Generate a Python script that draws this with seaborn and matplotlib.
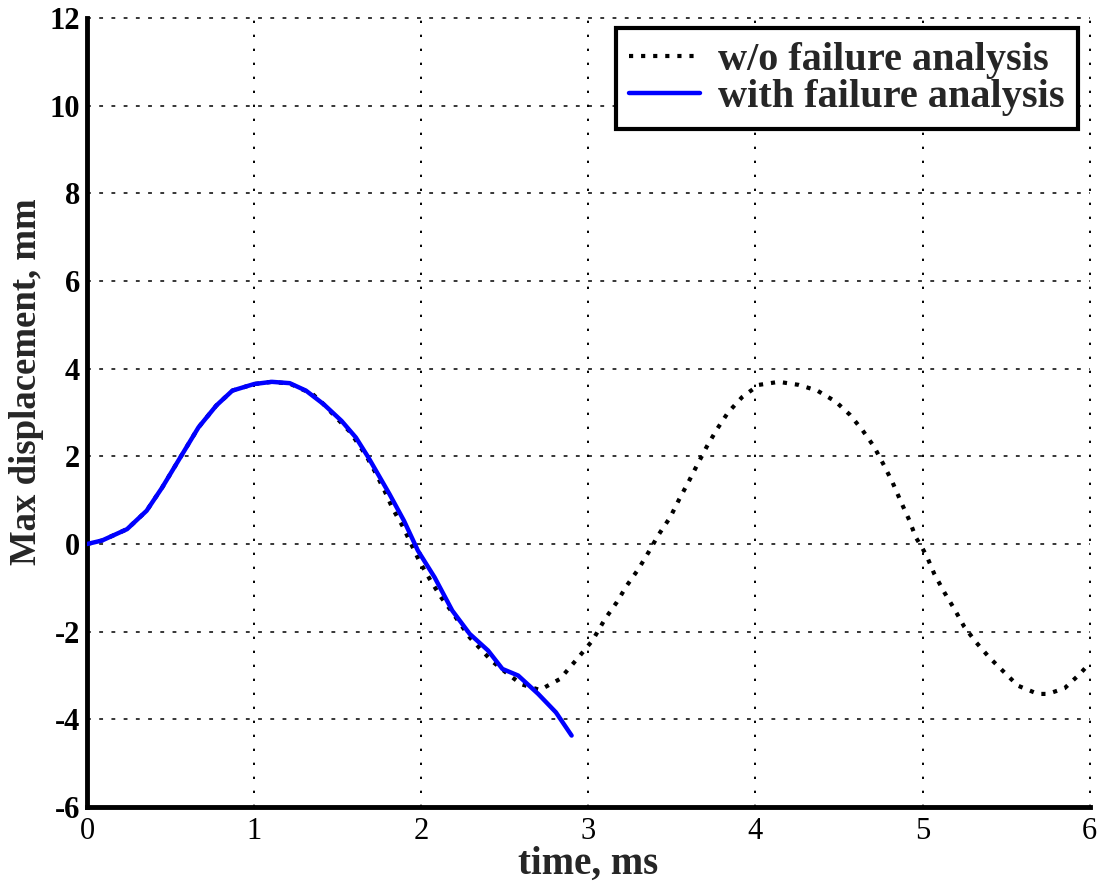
import matplotlib
matplotlib.use("Agg")
import matplotlib.pyplot as plt
import seaborn as sns
import pandas as pd

# Max displacement without failure analysis (ms, mm)
t_nofail = [0.0, 0.09, 0.24, 0.357, 0.45, 0.54, 0.667, 0.774, 0.87, 1.0, 1.106,
            1.213, 1.35, 1.405, 1.50, 1.576, 1.67, 1.726, 1.78, 1.83, 1.887,
            1.94, 1.99, 2.057, 2.12, 2.186, 2.29, 2.42, 2.52, 2.60, 2.71, 2.83,
            2.94, 3.025, 3.10, 3.17, 3.23, 3.30, 3.36, 3.42, 3.49, 3.545, 3.60,
            3.655, 3.71, 3.77, 3.836, 3.92, 4.02, 4.14, 4.26, 4.37, 4.48,
            4.565, 4.64, 4.71, 4.77, 4.82, 4.87, 4.92, 4.96, 5.0, 5.03, 5.07,
            5.13, 5.19, 5.25, 5.32, 5.40, 5.49, 5.57, 5.69, 5.75, 5.85, 5.94,
            6.0]
d_nofail = [0.0, 0.08, 0.34, 0.76, 1.29, 1.86, 2.66, 3.16, 3.50, 3.65, 3.70,
            3.66, 3.42, 3.23, 2.85, 2.55, 2.02, 1.63, 1.22, 0.80, 0.42,
            0.0, -0.40, -0.84, -1.22, -1.56, -2.13, -2.66, -2.97, -3.20, -3.33,
            -3.08, -2.59, -2.20, -1.71, -1.33, -0.95, -0.57, -0.19, 0.21, 0.61,
            1.03, 1.42, 1.83, 2.23, 2.62, 3.0, 3.35, 3.63, 3.70, 3.63, 3.50,
            3.25, 2.95, 2.60, 2.22, 1.79, 1.41, 0.97, 0.55, 0.15, -0.10, -0.32,
            -0.68, -1.10, -1.48, -1.89, -2.24, -2.59, -2.93, -3.23, -3.42,
            -3.42, -3.29, -2.97, -2.72]

# Max displacement with failure analysis (ms, mm)
t_fail = [0.0, 0.09, 0.24, 0.357, 0.45, 0.54, 0.667, 0.774, 0.87, 1.0, 1.106,
          1.213, 1.31, 1.416, 1.523, 1.609, 1.683, 1.81, 1.897, 1.98, 2.08,
          2.186, 2.29, 2.40, 2.486, 2.58, 2.70, 2.806, 2.90]
d_fail = [0.0, 0.08, 0.34, 0.76, 1.29, 1.86, 2.66, 3.16, 3.50, 3.65, 3.70,
          3.67, 3.50, 3.19, 2.81, 2.43, 1.98, 1.14, 0.53, -0.15, -0.76,
          -1.52, -2.05, -2.43, -2.85, -3.0, -3.42, -3.84, -4.37]

x_ticks = [0, 1, 2, 3, 4, 5, 6]
y_ticks = [-6, -4, -2, 0, 2, 4, 6, 8, 10, 12]

sns.set_style("white")
plt.rcParams["font.family"] = ["Liberation Serif", "DejaVu Serif"]
plt.rcParams["axes.unicode_minus"] = False

fig = plt.figure(figsize=(11.04, 8.88), dpi=100)
ax = fig.add_axes([0.0788, 0.0912, 0.9082, 0.8885])

df_a = pd.DataFrame({"t": t_nofail, "d": d_nofail})
df_b = pd.DataFrame({"t": t_fail, "d": d_fail})

sns.lineplot(data=df_a, x="t", y="d", ax=ax, color="black", lw=3.0,
             linestyle=(0, (1, 1.9)), label="w/o failure analysis",
             sort=False, zorder=3)
sns.lineplot(data=df_b, x="t", y="d", ax=ax, color="#0000ff", lw=3.2,
             linestyle="-", label="with failure analysis", sort=False,
             zorder=4)

ax.set_xlim(0, 6)
ax.set_ylim(-6, 12)
ax.set_xticks(x_ticks)
ax.set_yticks(y_ticks)

# Grid: dashed horizontals, dotted verticals
for y in y_ticks[1:]:
    ax.axhline(y, color="black", lw=1.1, linestyle=(0, (2.5, 5.5)), zorder=1,
               clip_on=False)
for x in x_ticks[1:]:
    ax.axvline(x, color="black", lw=1.4, linestyle=(0, (1.2, 6.0)), zorder=1,
               clip_on=False)

for side in ("top", "right"):
    ax.spines[side].set_visible(False)
for side in ("left", "bottom"):
    ax.spines[side].set_linewidth(3.5)
    ax.spines[side].set_color("black")

ax.tick_params(axis="both", direction="in", length=8, width=3.5,
               labelsize=22, colors="black")
ax.tick_params(axis="x", pad=7)
ax.tick_params(axis="y", pad=5)
for lab in ax.get_yticklabels():
    lab.set_fontweight("bold")

ax.set_xlabel("time, ms", fontsize=28, fontweight="bold", labelpad=0)
ax.set_ylabel("Max displacement, mm", fontsize=26.5, fontweight="bold")
ax.yaxis.set_label_coords(-0.043, 0.539)

leg = ax.legend(loc="upper right", bbox_to_anchor=(0.988, 0.987),
                borderaxespad=0.0,
                prop={"size": 29, "weight": "bold"}, frameon=True,
                fancybox=False, handlelength=1.75, borderpad=0.33,
                labelspacing=0.0, handletextpad=0.45)
leg.get_frame().set_edgecolor("black")
leg.get_frame().set_linewidth(3)
leg.get_frame().set_alpha(1)
leg.set_zorder(10)

fig.savefig("out.png", dpi=100, facecolor="white")
